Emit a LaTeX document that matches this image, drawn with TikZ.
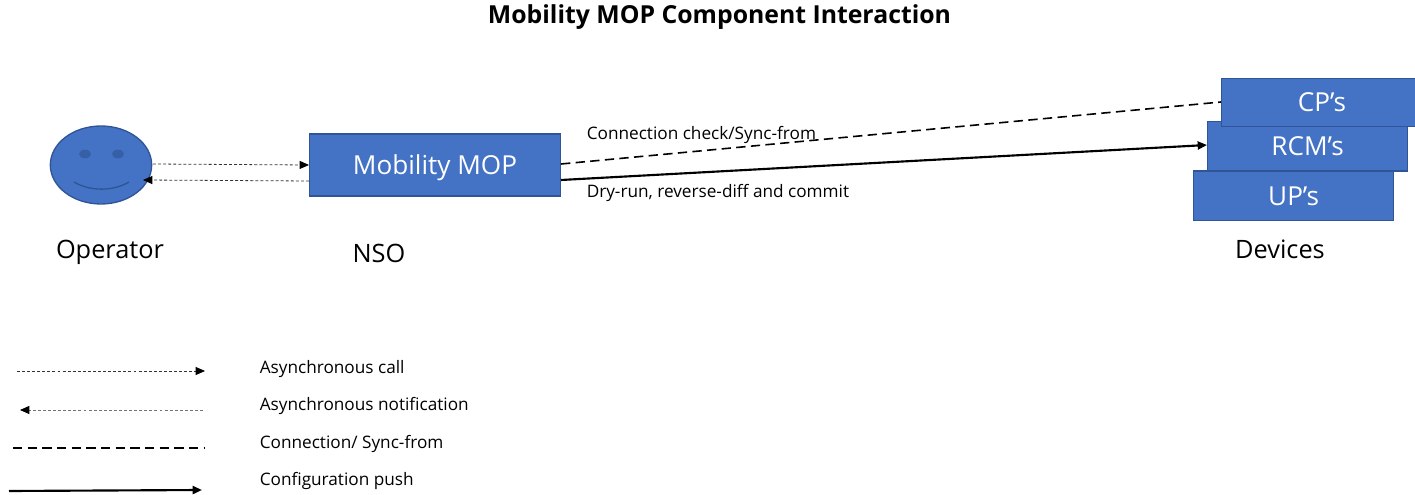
\documentclass[tikz,border=0pt]{standalone}
\usepackage{fontspec}
\setmainfont{Open Sans}
\usetikzlibrary{shapes.geometric,arrows.meta}
\definecolor{boxfill}{HTML}{4472C4}
\definecolor{boxline}{HTML}{2F5597}
\definecolor{eyefill}{HTML}{365FA8}
\tikzset{
  x=0.75pt,y=-0.75pt,
  bluebox/.style={draw=boxline,line width=1pt,fill=boxfill,text=white,inner sep=0pt,text height=16pt,text depth=2pt,font=\fontsize{19.6pt}{22pt}\selectfont},
  caption/.style={inner sep=0pt,anchor=center,font=\fontsize{19pt}{22pt}\selectfont},
  smalltext/.style={inner sep=0pt,anchor=west,font=\fontsize{12.9pt}{15pt}\selectfont},
  asyncline/.style={draw=black!80,line width=0.6pt,dash pattern=on 2.2pt off 1.6pt,-{Triangle[length=7pt,width=6pt,color=black]}},
  notifyline/.style={draw=black!55,line width=0.7pt,dash pattern=on 2.2pt off 1.6pt,-{Triangle[length=7pt,width=6pt,color=black]}},
  syncline/.style={draw=black,line width=1.2pt,dash pattern=on 7pt off 4pt},
  pushline/.style={draw=black,line width=1.6pt,-{Triangle[length=7pt,width=6pt]}},
}
\begin{document}
\begin{tikzpicture}
\useasboundingbox (0,0) rectangle (1415,495);
\node[inner sep=0pt,font=\bfseries\fontsize{18.6pt}{21pt}\selectfont] (title) at (719.5,17.5) {Mobility MOP Component Interaction};
% operator
\node[ellipse,draw=boxline,line width=1pt,fill=boxfill,minimum width=76pt,minimum height=58.5pt,inner sep=0pt] (face) at (101,165) {};
\node[ellipse,fill=eyefill,minimum width=9pt,minimum height=6.5pt,inner sep=0pt] (eyeL) at (85,154) {};
\node[ellipse,fill=eyefill,minimum width=9pt,minimum height=6.5pt,inner sep=0pt] (eyeR) at (118,154) {};
\coordinate (smileL) at (74,182);
\coordinate (smileR) at (129,182);
\draw[draw=boxline,line width=1pt] (smileL) .. controls (90,191.5) and (113,191.5) .. (smileR);
\node[caption] (oplabel) at (110,252) {Operator};
% NSO
\node[bluebox,minimum width=188.5pt,minimum height=46.5pt] (mop) at (435,165) {Mobility MOP};
\node[caption] (nsolabel) at (379,253) {NSO};
% devices
\node[bluebox,minimum width=150pt,minimum height=37pt,anchor=north west] (rcm) at (1207,121) {RCM’s};
\node[bluebox,minimum width=150pt,minimum height=37pt,anchor=north west] (up) at (1193,170.5) {UP’s};
\node[bluebox,minimum width=150.5pt,minimum height=36pt,anchor=north west] (cp) at (1221,78) {CP’s};
\node[caption] (devlabel) at (1280,249) {Devices};
% connectors
\coordinate (callA) at (153,164);
\coordinate (callB) at (309,165);
\coordinate (noteA) at (309,181);
\coordinate (noteB) at (143,180);
\draw[asyncline] (callA) -- (callB);
\draw[asyncline] (noteA) -- (noteB);
\coordinate (syncA) at (561,164);
\coordinate (syncB) at (1221,102);
\coordinate (pushA) at (561,180);
\coordinate (pushB) at (1207,145);
\draw[syncline] (syncA) -- (syncB);
\draw[pushline] (pushA) -- (pushB);
\node[smalltext] (synclabel) at (586.5,135) {Connection check/Sync-from};
\node[smalltext] (pushlabel) at (586.5,193) {Dry-run, reverse-diff and commit};
% legend
\coordinate (l1a) at (17,371);
\coordinate (l1b) at (205,371);
\coordinate (l2a) at (203,410);
\coordinate (l2b) at (20,410);
\coordinate (l3a) at (13,448);
\coordinate (l3b) at (205,448);
\coordinate (l4a) at (9,491);
\coordinate (l4b) at (202,490);
\draw[asyncline] (l1a) -- (l1b);
\draw[notifyline] (l2a) -- (l2b);
\draw[syncline] (l3a) -- (l3b);
\draw[pushline] (l4a) -- (l4b);
\node[smalltext] (t1) at (259.5,369) {Asynchronous call};
\node[smalltext] (t2) at (259.5,406) {Asynchronous notification};
\node[smalltext] (t3) at (259.5,444) {Connection/ Sync-from};
\node[smalltext] (t4) at (259.5,481) {Configuration push};
\end{tikzpicture}
\end{document}
